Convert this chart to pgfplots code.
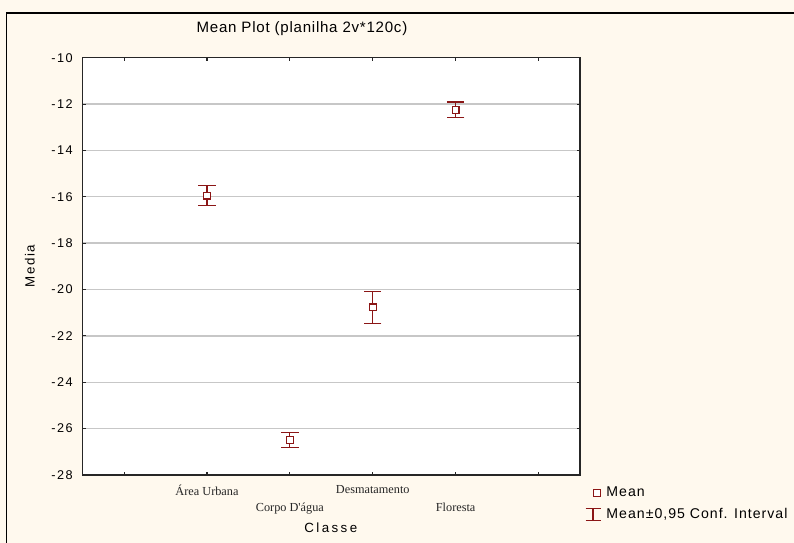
\documentclass[border=0pt]{standalone}
\usepackage{pgfplots}
\pgfplotsset{compat=1.18}
\usepackage{fontspec}
\setmainfont{Liberation Sans}
\newfontfamily\serifx{Liberation Serif}
\newfontfamily\tickf[LetterSpace=12]{Liberation Sans}
\newfontfamily\titlef[LetterSpace=5]{Liberation Sans}
\newfontfamily\legf[LetterSpace=7]{Liberation Sans}
\newfontfamily\labf[LetterSpace=18]{Liberation Sans}
\definecolor{darkred}{RGB}{139,22,22}
\definecolor{cream}{RGB}{255,249,238}
\begin{document}
\begin{tikzpicture}
\fill[cream] (-62pt,-51pt) rectangle (533.5pt,356.25pt);
\path[use as bounding box] (-62pt,-51pt) rectangle (533.5pt,356.25pt);
\draw[black, line width=1.1pt] (-57.2pt,-52pt) -- (-57.2pt,346.5pt) -- (535pt,346.5pt);
\begin{axis}[
  at={(0,0)}, anchor=south west,
  scale only axis,
  width=373pt, height=313pt,
  xmin=-0.5, xmax=5.5,
  ymin=-28, ymax=-10,
  xtick={0,1,2,3,4,5},
  xticklabels={{},{Área Urbana},{\vphantom{Área}\\[1.2pt]Corpo D'água},{Desmatamento},{\vphantom{Área}\\[1.2pt]Floresta},{}},
  xticklabel style={font=\serifx\fontsize{9.2}{10.5}\selectfont, align=center, anchor=north, yshift=-4pt, text=black!85},
  ytick={-28,-26,-24,-22,-20,-18,-16,-14,-12,-10},
  yticklabels={-28,-26,-24,-22,-20,-18,-16,-14,-12,-10},
  yticklabel style={font=\tickf\fontsize{9.5}{11}\selectfont, xshift=-4pt},
  tick align=inside,
  major tick length=2.6pt,
  tick style={black!85, line width=0.8pt},
  axis line style={black!85, line width=1pt},
  axis background/.style={fill=white},
  ymajorgrids,
  major grid style={black!22, line width=1pt},
  title={\titlef\fontsize{11.3}{13}\selectfont Mean Plot (planilha 2v*120c)},
  title style={at={(axis description cs:0.441,1.0496)}, anchor=center, inner sep=0pt},
  xlabel={\labf\fontsize{10}{12}\selectfont Classe},
  xlabel style={at={(axis description cs:0.499,-0.127)}, anchor=center, inner sep=0pt},
  ylabel={\tickf\fontsize{10}{12}\selectfont Media},
  ylabel style={at={(axis description cs:-0.106,0.5)}, anchor=center, rotate=0, inner sep=0pt},
  legend style={at={(axis description cs:1.0095,-0.022)}, anchor=north west, draw=none, fill=none,
    font=\legf\fontsize{10.6}{12}\selectfont, row sep=3pt, inner sep=0pt, column sep=2pt},
  legend cell align=left,
  clip=false,
]
\addplot[only marks, mark=square*, mark size=2.5pt,
  mark options={fill=white, draw=darkred, line width=0.9pt},
  error bars/.cd, y dir=both, y explicit,
  error bar style={darkred, line width=0.9pt},
  error mark options={rotate=90, mark size=6.5pt, darkred, line width=0.9pt}]
  coordinates {
  (1,-15.95) +- (0,0.43)
  (2,-26.50) +- (0,0.33)
  (3,-20.77) +- (0,0.70)
  (4,-12.25) +- (0,0.34)
  };
\addlegendentry{Mean}
\addlegendimage{draw=darkred, line width=0.9pt, legend image code/.code={
  \draw[darkred, line width=0.9pt] (0pt,4.6pt) -- (11.2pt,4.6pt);
  \draw[darkred, line width=0.9pt] (5.6pt,4.6pt) -- (5.6pt,-4.6pt);
  \draw[darkred, line width=0.9pt] (0pt,-4.6pt) -- (11.2pt,-4.6pt);}}
\addlegendentry{Mean±0,95 Conf. Interval}
\end{axis}
\end{tikzpicture}
\end{document}
